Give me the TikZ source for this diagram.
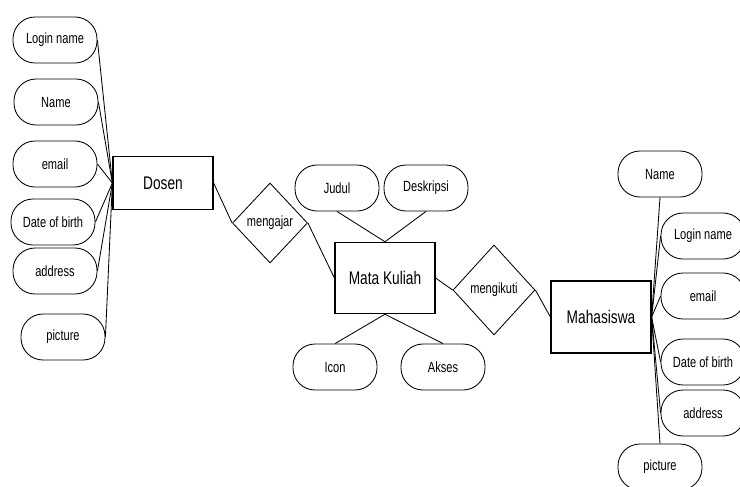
\documentclass[tikz,border=0pt]{standalone}
\usepackage{fontspec}
\setmainfont{Liberation Sans}[FakeStretch=0.75]
\usepackage{tikz}
\usetikzlibrary{shapes,positioning}

\begin{document}
\begin{tikzpicture}[every node/.style={font=\fontsize{10.5}{12}\selectfont},
    attr/.style={draw, line width=0.6pt, rounded corners=0.55cm, minimum width=2.1cm, minimum height=1.15cm, inner sep=1pt},
    entity/.style={draw, line width=0.9pt, minimum width=2.5cm, font=\fontsize{13}{15}\selectfont},
    rel/.style={draw, diamond, line width=0.6pt, inner sep=0pt},
    link/.style={line width=0.6pt}]
            \useasboundingbox (0,0) rectangle (18.5,-12.15);
            % Dosen
            \node[entity, minimum height=1.32cm] (dosen) at (4.075,-4.575) {Dosen};
            \node[attr] (d_login) at (1.375,-1.0) {Login name};
            \node[attr] (d_name) at (1.4,-2.55) {Name};
            \node[attr] (d_email) at (1.375,-4.1) {email};
            \node[attr] (d_dob) at (1.325,-5.55) {Date of birth};
            \node[attr] (d_addr) at (1.375,-6.775) {address};
            \node[attr] (d_pic) at (1.575,-8.425) {picture};
            \foreach \a in {d_login,d_name,d_email,d_dob,d_addr,d_pic}
                \draw[link] (\a.east) -- (dosen.west);
            % mengajar
            \node[rel, minimum width=1.875cm, minimum height=2cm] (mengajar) at (6.75,-5.575) {mengajar};
            % Mata Kuliah
            \node[entity, minimum height=1.78cm] (matkul) at (9.625,-6.95) {Mata Kuliah};
            \node[attr] (judul) at (8.425,-4.7) {Judul};
            \node[attr] (deskripsi) at (10.65,-4.7) {Deskripsi};
            \node[attr] (icon) at (8.375,-9.175) {Icon};
            \node[attr] (akses) at (11.075,-9.175) {Akses};
            \draw[link] (judul.south) -- (matkul.north);
            \draw[link] (deskripsi.south) -- (matkul.north);
            \draw[link] (icon.north) -- (matkul.south);
            \draw[link] (akses.north) -- (matkul.south);
            % mengikuti
            \node[rel, minimum width=2.05cm, minimum height=2.25cm] (mengikuti) at (12.35,-7.25) {mengikuti};
            % Mahasiswa
            \node[entity, minimum height=1.8cm] (mhs) at (15.025,-7.925) {Mahasiswa};
            \node[attr] (m_name) at (16.5,-4.35) {Name};
            \node[attr] (m_login) at (17.575,-5.9) {Login name};
            \node[attr] (m_email) at (17.575,-7.4) {email};
            \node[attr] (m_dob) at (17.575,-9.05) {Date of birth};
            \node[attr] (m_addr) at (17.575,-10.325) {address};
            \node[attr] (m_pic) at (16.5,-11.675) {picture};
            \draw[link] (m_name.south) -- (mhs.east);
            \foreach \a in {m_login,m_email,m_dob,m_addr}
                \draw[link] (\a.west) -- (mhs.east);
            \draw[link] (m_pic.north) -- (mhs.east);
            % relations
            \draw[link] (dosen.east) -- (mengajar.west);
            \draw[link] (mengajar.east) -- (matkul.west);
            \draw[link] (matkul.east) -- (mengikuti.west);
            \draw[link] (mengikuti.east) -- (mhs.west);
        \end{tikzpicture}
\end{document}
